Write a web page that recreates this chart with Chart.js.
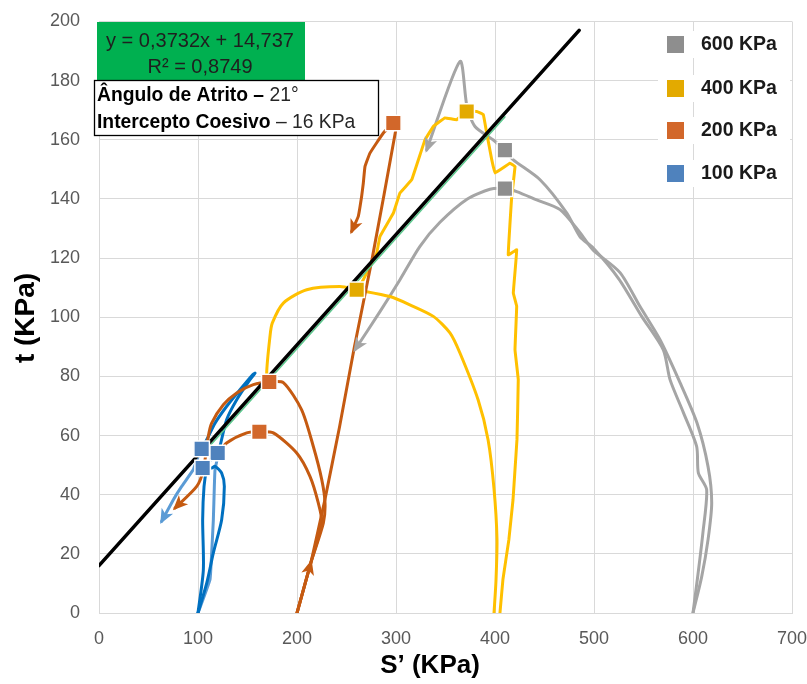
<!DOCTYPE html>
<html>
<head>
<meta charset="utf-8">
<title>Trajetórias de tensões</title>
<script src="https://cdn.jsdelivr.net/npm/chart.js@4.4.1/dist/chart.umd.min.js"></script>
<style>
  html, body { margin: 0; padding: 0; background: #ffffff; }
  canvas { display: block; }
</style>
</head>
<body>
<canvas id="chart" width="807" height="684"></canvas>
<script>
// Stress paths, [S', t] pairs in kPa, one array per specimen
const path600A = [[600,0],[608.8,12.3],[615.2,24.8],[618.9,37.3],[615.2,49.5],[604,64.3],[586.9,77.9],[566.7,92.4],[546.5,103.6],[526.3,115.1],[499,122.8],[485.9,128.6],[465.7,136.4],[442.1,139.7],[421.9,142.5],[410,143.5],[394.9,143.3],[371.7,139.9],[344.4,132.1],[324.2,124],[304,112.7],[283.8,101.9],[258.6,89]];
const path600B = [[600,0],[605,13],[610,27.1],[613.8,41.7],[605.4,47.4],[603.7,56.3],[590,68],[576.8,78.9],[570,89],[548.2,100.3],[525,113],[499,123.5],[485.9,127.2],[472.4,135.3],[445.5,146.5],[418.2,153.3],[410,156.5],[398,160],[379.8,164.5],[371.7,171.2],[364.6,186.5],[331,156.6]];
const path400A = [[399,0],[401,11],[402,25],[399,42],[393,58.6],[383,72],[364.6,87.9],[354.5,94.7],[337.7,100.3],[314.1,104.2],[293.9,107],[260.3,109.3],[243.4,110.4],[209.8,109.3],[186.2,104.8],[175,98],[172.7,93.5],[169.4,81.1],[172,78]];
const path400B = [[405,0],[408,11.3],[414,24.8],[418.2,38.3],[420.2,48.5],[422.2,58.7],[423.5,78.9],[420.2,89],[421.9,103.7],[418.5,108.2],[421.9,122.8],[413.4,121.1],[416.9,140.9],[420.2,151],[415.2,152.1],[400,148.8],[396.7,153.3],[391.6,162.3],[388.2,168.5],[381.5,169.6],[371.4,169.6],[361.3,166.8],[349.5,167.4],[337.7,164.5],[329.3,160],[315.9,146.5],[304,142],[297.3,135.2],[283.8,127.3],[280.5,121.7],[273.7,117.2],[267,112.7],[262,110]];
const path200A = [[200,0],[214,17],[228,38],[243,63],[258,90],[276,120],[299.5,162.8],[297.3,165.7],[287.2,162.3],[273.7,155.5],[268.7,151],[267,145.4],[265.3,140.9],[261.9,134.1],[255.2,129]];
const path200B = [[200,0],[214,17],[226.6,30.4],[228.3,37.2],[225,45.1],[216.5,56.3],[204.7,68.7],[186.2,77.9],[172,78.1],[155.9,77.2],[139.1,74.4],[125.6,70.4],[113.8,64.2],[110.4,59.7],[105.4,48.5],[98.7,42.8],[76.8,35.5]];
const path200C = [[200,0],[214,17],[225,30.4],[221.5,37.2],[213.1,46.2],[199.7,54.1],[176.1,60.9],[162,61.3],[149.2,60.9],[128.9,57.5],[120,54]];
const path100A = [[100,0],[105.4,14.6],[104.7,31.5],[106.1,42.8],[108.8,48.5],[113,52],[119.9,54.1],[122.2,56.4],[129,65.4],[139.1,72.1],[152.5,78.9],[157.6,81.1],[155,80.5],[142.4,75.5],[129,69.9],[117.2,64.2],[108.8,58.6],[103.7,55.5]];
const path100B = [[100,0],[108.8,10.1],[115.5,20.3],[123.9,31.5],[126.6,42.8],[123.9,47.3],[117.2,49.6],[113.8,49],[104.7,49]];
const path100C = [[100,0],[112.1,11.3],[113.8,20.3],[115.5,31.5],[116.5,42.8],[117.2,48.5],[120.5,54.6],[103.7,55.5],[95.3,48.5],[83.5,42.8],[75.1,38.3],[63.3,31]];

// Failure points of each confining stress
const peaks600 = [[410,143.5],[410,156.5]];
const peaks400 = [[371.4,169.6],[260.3,109.3]];
const peaks200 = [[297.3,165.7],[172,78.1],[162,61.3]];
const peaks100 = [[103.7,55.5],[119.9,54.1],[104.7,49]];
const legendLabels = ['600 KPa', '400 KPa', '200 KPa', '100 KPa'];

// Linear fit of the failure points and the failure envelope
const fitSlope = 0.3732;
const fitIntercept = 14.737;
const fitR2 = 0.8749;
const fitRange = [103.7, 410];
const envelopeSlope = 0.3732;
const envelopeIntercept = 16;
const envelopeRange = [0, 485];
const frictionAngle = 21;

// Axis ticks
const xTicks = [0, 100, 200, 300, 400, 500, 600, 700];
const yTicks = [0, 20, 40, 60, 80, 100, 120, 140, 160, 180, 200];

const FONT = "'Liberation Sans', Arial, sans-serif";
const C = {
  gray: '#a5a5a5', grayMark: '#8e8e8e',
  yellow: '#ffc000', yellowMark: '#e3aa00',
  orange: '#c55a11', orangeMark: '#d2672a',
  blue: '#0070c0', blueLight: '#5b9bd5', blueMark: '#4f82bd'
};

const pts = arr => arr.map(([x, y]) => ({x, y}));
const comma = v => String(v).replace('.', ',');

function pathSet(data, color, opts = {}) {
  return Object.assign({
    data: pts(data), showLine: true, borderColor: color, backgroundColor: color,
    borderWidth: 3, pointRadius: 0, pointHoverRadius: 0, tension: 0.25,
    borderCapStyle: 'round', borderJoinStyle: 'round', order: 5, isPath: true
  }, opts);
}
function peakSet(label, data, color) {
  return {
    label, data: pts(data), showLine: false, pointStyle: 'rect', pointRadius: 11,
    pointHoverRadius: 11, backgroundColor: color, borderColor: '#ffffff',
    borderWidth: 1.5, order: 0, isPeak: true
  };
}
const fitLine = [fitRange[0], fitRange[1]].map(x => [x, fitSlope * x + fitIntercept]);
const envLine = [envelopeRange[0], envelopeRange[1]].map(x => [x, envelopeSlope * x + envelopeIntercept]);

const datasets = [
  peakSet(legendLabels[0], peaks600, C.grayMark),
  peakSet(legendLabels[1], peaks400, C.yellowMark),
  peakSet(legendLabels[2], peaks200, C.orangeMark),
  peakSet(legendLabels[3], peaks100, C.blueMark),
  pathSet(envLine, '#000000', {borderWidth: 3.5, tension: 0, order: 1}),
  pathSet(fitLine, '#5cc98e', {borderWidth: 1.5, tension: 0, order: 2}),
  pathSet(path200A, C.orange, {tension: 0.1, arrowAt: [1, path200A.length - 1]}),
  pathSet(path200B, C.orange, {arrowAt: [path200B.length - 1]}),
  pathSet(path200C, C.orange),
  pathSet(path100A, C.blue),
  pathSet(path100B, C.blue),
  pathSet(path100C, C.blueLight, {tension: 0.1, arrowAt: [path100C.length - 1]}),
  pathSet(path400A, C.yellow),
  pathSet(path400B, C.yellow, {tension: 0.05}),
  pathSet(path600A, C.gray, {arrowAt: [path600A.length - 1]}),
  pathSet(path600B, C.gray, {arrowAt: [path600B.length - 1]})
];

// Arrowheads along the stress paths
const arrowPlugin = {
  id: 'pathArrows',
  afterDatasetsDraw(chart) {
    const {ctx} = chart;
    const xs = chart.scales.x, ys = chart.scales.y;
    chart.data.datasets.forEach(ds => {
      (ds.arrowAt || []).forEach(i => {
        const p = ds.data[i], q = ds.data[i - 1];
        const x1 = xs.getPixelForValue(p.x), y1 = ys.getPixelForValue(p.y);
        const x0 = xs.getPixelForValue(q.x), y0 = ys.getPixelForValue(q.y);
        const a = Math.atan2(y1 - y0, x1 - x0);
        ctx.save();
        ctx.translate(x1, y1);
        ctx.rotate(a);
        ctx.beginPath();
        ctx.moveTo(3, 0);
        ctx.lineTo(-12, -6.5);
        ctx.lineTo(-8, 0);
        ctx.lineTo(-12, 6.5);
        ctx.closePath();
        ctx.fillStyle = ds.borderColor;
        ctx.fill();
        ctx.restore();
      });
    });
  }
};

// Legend, equation boxes and axis titles
const overlayPlugin = {
  id: 'overlays',
  afterDraw(chart) {
    const {ctx} = chart;
    ctx.save();

    // equation of the fit
    ctx.fillStyle = '#00b050';
    ctx.fillRect(97, 22, 208, 58);
    ctx.fillStyle = '#1f1f1f';
    ctx.font = `20px ${FONT}`;
    ctx.textAlign = 'center';
    ctx.textBaseline = 'middle';
    ctx.fillText(`y = ${comma(fitSlope)}x + ${comma(fitIntercept)}`, 200, 41);
    ctx.fillText(`R² = ${comma(fitR2)}`, 200, 67);

    // strength parameters
    ctx.fillStyle = '#ffffff';
    ctx.fillRect(94, 80, 284, 56);
    ctx.strokeStyle = '#000000';
    ctx.lineWidth = 1.3;
    ctx.strokeRect(94.5, 80.5, 284, 55);
    ctx.textAlign = 'left';
    ctx.fillStyle = '#000000';
    const mixed = (bold, normal, x, y) => {
      ctx.font = `bold 19.3px ${FONT}`;
      ctx.fillText(bold, x, y);
      const w = ctx.measureText(bold).width;
      ctx.font = `19.3px ${FONT}`;
      ctx.fillStyle = '#262626';
      ctx.fillText(normal, x + w, y);
      ctx.fillStyle = '#000000';
    };
    mixed('Ângulo de Atrito –', ` ${frictionAngle}°`, 97, 96);
    mixed('Intercepto Coesivo', ` – ${envelopeIntercept} KPa`, 97, 123);

    // legend
    const rows = [44, 88, 130, 173];
    const peaks = chart.data.datasets.filter(d => d.isPeak);
    peaks.forEach((ds, i) => {
      const y = rows[i];
      ctx.fillStyle = '#ffffff';
      ctx.fillRect(658, y - 13, 132, 27);
      ctx.fillStyle = ds.backgroundColor;
      ctx.fillRect(667, y - 8, 17, 17);
      ctx.fillStyle = '#1a1a1a';
      ctx.font = `bold 19.5px ${FONT}`;
      ctx.textAlign = 'left';
      ctx.fillText(ds.label, 701, y + 1);
    });

    // axis titles
    ctx.fillStyle = '#000000';
    ctx.font = `bold 26px ${FONT}`;
    ctx.textAlign = 'center';
    ctx.fillText('S’ (KPa)', 430, 666);
    ctx.font = `bold 28px ${FONT}`;
    ctx.translate(26, 318);
    ctx.rotate(-Math.PI / 2);
    ctx.fillText('t (KPa)', 0, 0);
    ctx.restore();
  }
};

new Chart(document.getElementById('chart'), {
  type: 'scatter',
  data: {datasets},
  options: {
    responsive: false,
    animation: false,
    events: [],
    layout: {padding: {left: 0, right: 15, top: 21.5, bottom: 0}},
    plugins: {legend: {display: false}, tooltip: {enabled: false}},
    scales: {
      x: {
        type: 'linear', min: xTicks[0], max: xTicks[xTicks.length - 1],
        ticks: {stepSize: xTicks[1] - xTicks[0], color: '#595959', padding: 15, font: {family: FONT, size: 18}},
        grid: {color: '#d9d9d9', drawTicks: false},
        border: {color: '#d9d9d9'},
        afterFit(s) { s.height = 71; s.paddingLeft = 0; s.paddingRight = 0; }
      },
      y: {
        type: 'linear', min: yTicks[0], max: yTicks[yTicks.length - 1],
        ticks: {stepSize: yTicks[1] - yTicks[0], color: '#595959', padding: 19, font: {family: FONT, size: 18}},
        grid: {color: '#d9d9d9', drawTicks: false},
        border: {color: '#d9d9d9'},
        afterFit(s) { s.width = 99; s.paddingTop = 0; s.paddingBottom = 0; }
      }
    }
  },
  plugins: [arrowPlugin, overlayPlugin]
});
</script>
</body>
</html>
